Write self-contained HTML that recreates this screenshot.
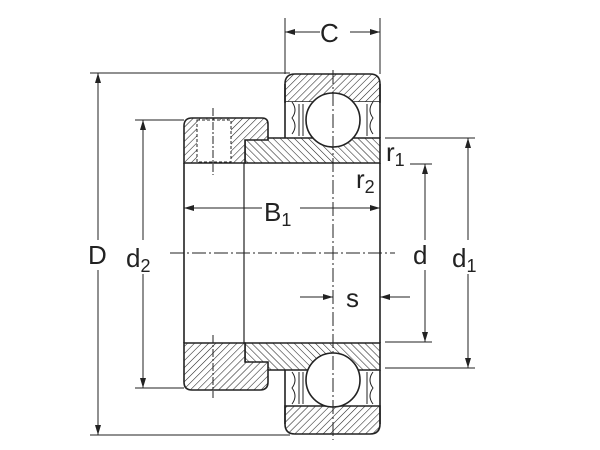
<!DOCTYPE html>
<html><head><meta charset="utf-8"><style>html,body{margin:0;padding:0;background:#fff}svg{display:block}</style></head>
<body>
<svg width="600" height="450" viewBox="0 0 600 450" xmlns="http://www.w3.org/2000/svg" font-family="Liberation Sans, sans-serif">
<defs>
<pattern id="h" width="5" height="5" patternUnits="userSpaceOnUse" patternTransform="rotate(45)">
<rect width="5" height="5" fill="#fff"/><line x1="0" y1="0" x2="0" y2="5" stroke="#222" stroke-width="1.1"/></pattern>
<pattern id="h2" width="5" height="5" patternUnits="userSpaceOnUse" patternTransform="rotate(-45)">
<rect width="5" height="5" fill="#fff"/><line x1="0" y1="0" x2="0" y2="5" stroke="#222" stroke-width="1.1"/></pattern>
<marker id="a" viewBox="0 0 10 6" refX="10" refY="3" markerWidth="10" markerHeight="6" orient="auto-start-reverse" markerUnits="userSpaceOnUse"><path d="M0,0 L10,3 L0,6 z" fill="#222"/></marker>
</defs>
<g stroke="#222" stroke-width="1.6" fill="none">
<path d="M285,84 Q285,74 295,74 L370,74 Q380,74 380,84 L380,102 L285,102 Z" fill="url(#h)"/>
<rect x="286" y="102" width="93" height="36" fill="#fff" stroke="none"/>
<line x1="285" y1="84" x2="285" y2="138"/><line x1="380" y1="84" x2="380" y2="138"/>
<path d="M245,138 L380,138 L380,163 L245,163 Z" fill="url(#h2)"/>
<path d="M184,126 Q184,118 192,118 L262,118 Q268,118 268,124 L268,140 L245,140 L245,163 L184,163 Z" fill="url(#h)"/>
<rect x="197" y="120" width="34" height="42" fill="#fff" stroke="#222" stroke-width="1" stroke-dasharray="3,2"/>
<circle cx="333" cy="120" r="27" fill="#fff"/>
<path d="M245,343 L380,343 L380,370 L245,370 Z" fill="url(#h2)"/>
<path d="M184,343 L245,343 L245,362 L268,362 L268,382 Q268,390 260,390 L192,390 Q184,390 184,382 Z" fill="url(#h)"/>
<path d="M285,406 L380,406 L380,424 Q380,434 370,434 L295,434 Q285,434 285,424 Z" fill="url(#h)"/>
<line x1="285" y1="370" x2="285" y2="424"/><line x1="380" y1="370" x2="380" y2="424"/>
<circle cx="333" cy="380" r="27" fill="#fff"/>
<line x1="184" y1="163" x2="184" y2="343"/>
<line x1="244" y1="163" x2="244" y2="343" stroke-width="1.2"/>
<line x1="380" y1="163" x2="380" y2="343"/>
</g>
<g stroke="#222" stroke-width="1" fill="none">
<path d="M292,102 q6,8 0,16 q6,8 0,16 M299,104 l0,32 M303,104 l0,32 M373,102 q-6,8 0,16 q-6,8 0,16 M367,104 l0,32"/>
<path d="M292,372 q6,8 0,16 q6,8 0,16 M299,372 l0,32 M303,372 l0,32 M373,372 q-6,8 0,16 q-6,8 0,16 M367,372 l0,32"/>
<line x1="170" y1="253" x2="395" y2="253" stroke-dasharray="14,3,2,3"/>
<line x1="333" y1="70" x2="333" y2="440" stroke-dasharray="14,3,2,3"/>
<line x1="213" y1="108" x2="213" y2="175" stroke-dasharray="8,2,2,2"/>
<line x1="213" y1="335" x2="213" y2="398" stroke-dasharray="8,2,2,2"/>
<line x1="285" y1="18" x2="285" y2="74"/><line x1="380" y1="18" x2="380" y2="74"/>
<line x1="90" y1="73" x2="290" y2="73"/><line x1="90" y1="435" x2="290" y2="435"/>
<line x1="135" y1="120" x2="184" y2="120"/><line x1="135" y1="388" x2="184" y2="388"/>
<line x1="385" y1="138" x2="475" y2="138"/><line x1="385" y1="368" x2="475" y2="368"/>
<line x1="410" y1="164" x2="432" y2="164"/><line x1="385" y1="342" x2="432" y2="342"/>
<line x1="285" y1="32" x2="320" y2="32" marker-start="url(#a)"/>
<line x1="350" y1="32" x2="380" y2="32" marker-end="url(#a)"/>
<line x1="98" y1="73" x2="98" y2="240" marker-start="url(#a)"/>
<line x1="98" y1="270" x2="98" y2="435" marker-end="url(#a)"/>
<line x1="143" y1="120" x2="143" y2="240" marker-start="url(#a)"/>
<line x1="143" y1="274" x2="143" y2="388" marker-end="url(#a)"/>
<line x1="425" y1="164" x2="425" y2="240" marker-start="url(#a)"/>
<line x1="425" y1="270" x2="425" y2="342" marker-end="url(#a)"/>
<line x1="468" y1="138" x2="468" y2="240" marker-start="url(#a)"/>
<line x1="468" y1="274" x2="468" y2="368" marker-end="url(#a)"/>
<line x1="184" y1="208" x2="262" y2="208" marker-start="url(#a)"/>
<line x1="300" y1="208" x2="380" y2="208" marker-end="url(#a)"/>
<line x1="300" y1="297" x2="333" y2="297" marker-end="url(#a)"/>
<line x1="410" y1="297" x2="380" y2="297" marker-end="url(#a)"/>
</g>
<g fill="#222" font-size="26">
<text x="320" y="42">C</text>
<text x="88" y="264">D</text>
<text x="126" y="267">d<tspan font-size="18" dy="5">2</tspan></text>
<text x="264" y="221">B<tspan font-size="18" dy="5">1</tspan></text>
<text x="413" y="264">d</text>
<text x="452" y="267">d<tspan font-size="18" dy="5">1</tspan></text>
<text x="346" y="307">s</text>
<text x="386" y="161">r<tspan font-size="18" dy="5">1</tspan></text>
<text x="356" y="188">r<tspan font-size="18" dy="5">2</tspan></text>
</g>
</svg>
</body></html>
